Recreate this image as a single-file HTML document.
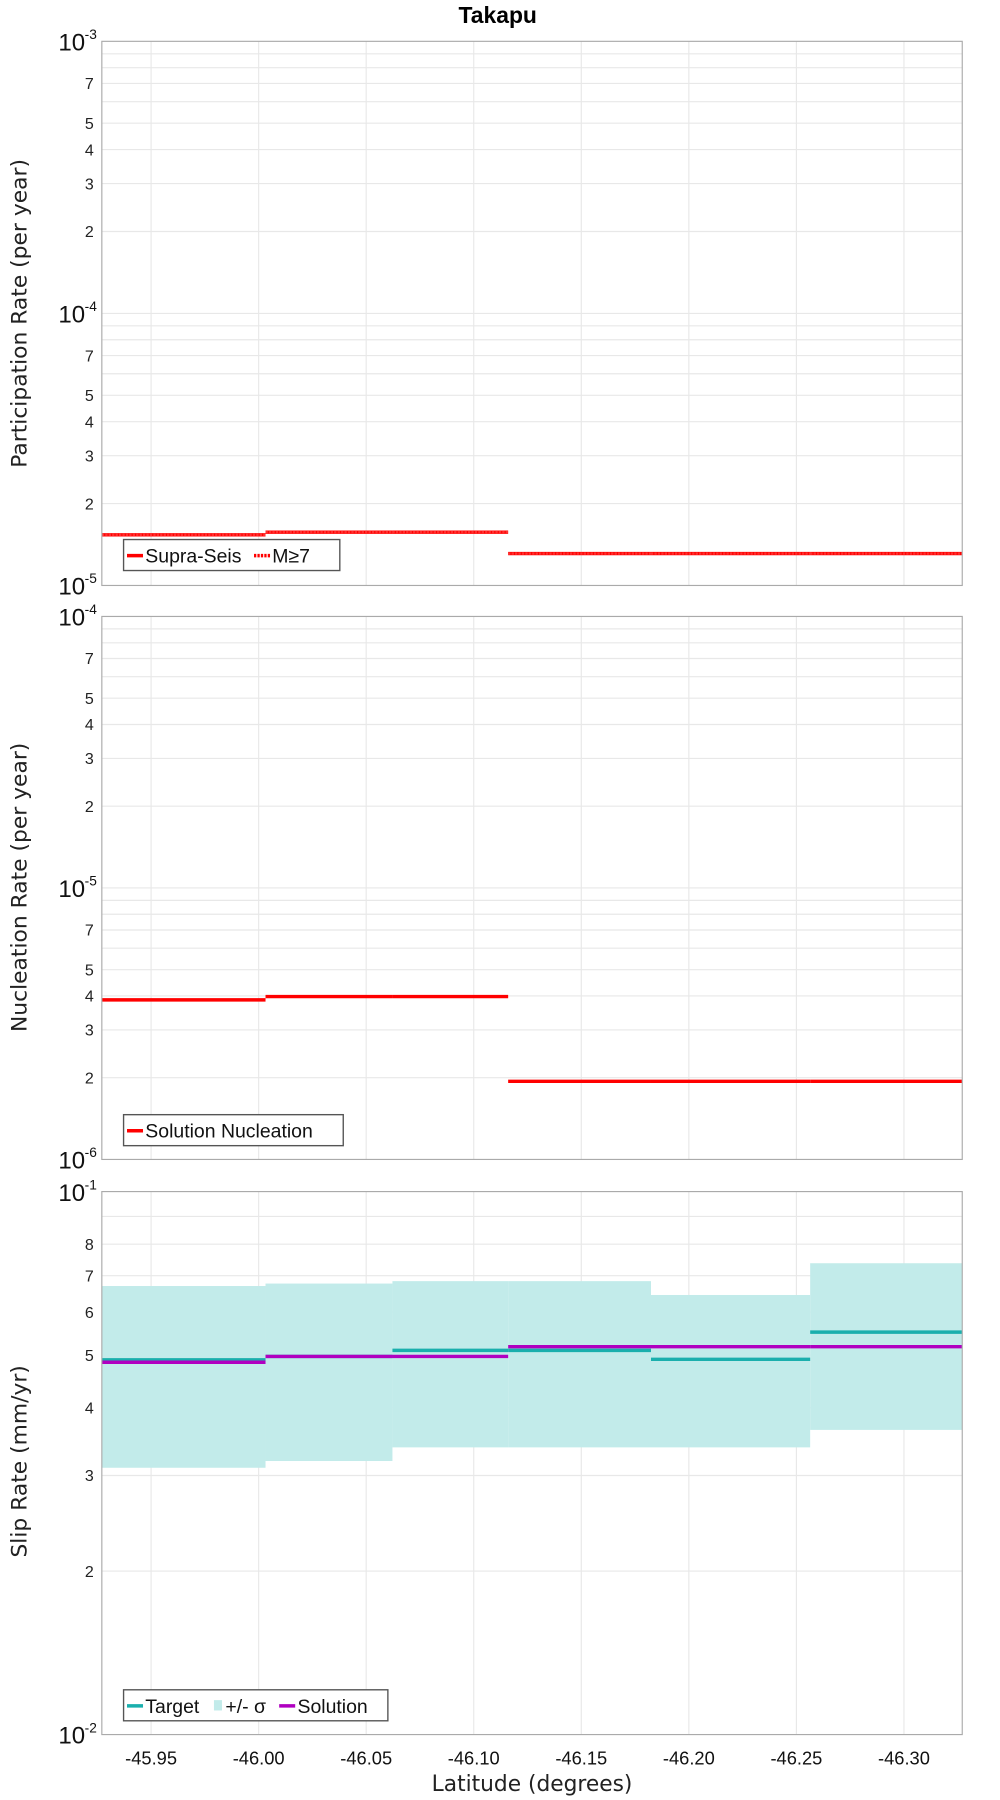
<!DOCTYPE html>
<html><head><meta charset="utf-8"><style>
html,body{margin:0;padding:0;background:#fff;}
svg{display:block;font-family:"Liberation Sans","DejaVu Sans",sans-serif;}
</style></head><body>
<svg id="chart" width="1000" height="1800" viewBox="0 0 874 1568" preserveAspectRatio="none" xmlns="http://www.w3.org/2000/svg">
<text x="435" y="20" text-anchor="middle" font-size="20" font-weight="bold">Takapu</text>
<g id="layer"></g>
</svg>
<script>
// segment boundaries (latitude)
const segEdges = [-45.9271, -46.0032, -46.0622, -46.116, -46.1824, -46.2564, -46.3271];
const xTicks = [-45.95, -46.00, -46.05, -46.10, -46.15, -46.20, -46.25, -46.30];
const xTickLabels = ["-45.95","-46.00","-46.05","-46.10","-46.15","-46.20","-46.25","-46.30"];
const partSupra = [1.535e-5, 1.57e-5, 1.57e-5, 1.31e-5, 1.31e-5, 1.31e-5];
const partM7 = [1.535e-5, 1.57e-5, 1.57e-5, 1.31e-5, 1.31e-5, 1.31e-5];
const nuclSolution = [3.87e-6, 3.98e-6, 3.98e-6, 1.94e-6, 1.94e-6, 1.94e-6];
const slipTarget = [4.90, 4.97, 5.10, 5.10, 4.91, 5.51];
const slipSolution = [4.85, 4.97, 4.97, 5.18, 5.18, 5.18];
const slipUpper = [6.70, 6.77, 6.84, 6.84, 6.45, 7.38];
const slipLower = [3.10, 3.19, 3.38, 3.38, 3.38, 3.64];

const NS = "http://www.w3.org/2000/svg";
const layer = document.getElementById("layer");
const L = 89, R = 841;
const X0 = -45.9271, X1 = -46.3271;
function xs(v){ return L + (v - X0) / (X1 - X0) * (R - L); }
function mk(tag, attrs, parent){
  const e = document.createElementNS(NS, tag);
  for (const k in attrs) e.setAttribute(k, attrs[k]);
  (parent || layer).appendChild(e);
  return e;
}
function panel(top, bottom, d0, d1, minorLabels, decExps, name){
  const g = mk("g", {});
  
  
  const ys = v => bottom - (Math.log10(v) - d0) / (d1 - d0) * (bottom - top);
  xTicks.forEach(t => {
    const ln = mk("line", {x1: xs(t), x2: xs(t), y1: top, y2: bottom, stroke: "#e8e8e8", "stroke-width": 1}, g);
    
    
  });
  for (let d = d0; d < d1; d++) {
    for (let m = 2; m <= 9; m++) {
      const v = m * Math.pow(10, d), y = ys(v);
      const ln = mk("line", {x1: L, x2: R, y1: y, y2: y, stroke: "#e8e8e8", "stroke-width": 1}, g);
      
      
      if (minorLabels.indexOf(m) >= 0) {
        const t = mk("text", {x: 82, y: y + 5, "text-anchor": "end", "font-size": 14, fill: "#222"}, g);
        t.textContent = String(m);
        
        
      }
    }
  }
  for (let d = d0; d <= d1; d++) {
    const y = ys(Math.pow(10, d));
    if (d > d0 && d < d1) {
      const ln = mk("line", {x1: L, x2: R, y1: y, y2: y, stroke: "#e8e8e8", "stroke-width": 1}, g);
      
      
    }
    const t = mk("text", {x: 51, y: y + 8, "font-size": 21, fill: "#111"}, g);
    t.textContent = "10";
    
    
    const s = mk("text", {x: 74, y: y - 2, "font-size": 12, fill: "#111"}, g);
    s.textContent = String(d + decExps);
    
    
  }
  return {g, ys};
}
function frame(g, top, bottom){
  const r = mk("rect", {x: L, y: top, width: R - L, height: bottom - top, fill: "none", stroke: "#aaa", "stroke-width": 1}, g);
  
  
}
function steps(g, vals, ys, color, w, name, dash){
  vals.forEach((v, i) => {
    const a = {x1: xs(segEdges[i]), x2: xs(segEdges[i + 1]), y1: ys(v), y2: ys(v), stroke: color, "stroke-width": w};
    if (dash) a["stroke-dasharray"] = dash;
    const ln = mk("line", a, g);
    
    
  });
}
function ylabel(text, cy, name){
  const t = mk("text", {x: 0, y: 0, transform: "translate(23," + cy + ") rotate(-90)", "text-anchor": "middle", "font-size": 19, fill: "#222", "font-family": "DejaVu Sans, sans-serif"});
  t.textContent = text;
  
  
}
function legend(x, y, w, items, name){
  const g = mk("g", {});
  
  
  const r = mk("rect", {x: x, y: y, width: w, height: 27, fill: "#fff", stroke: "#555", "stroke-width": 1.2}, g);
  
  
  let cx = x + 3;
  items.forEach(it => {
    if (it.box) {
      const b = mk("rect", {x: cx, y: y + 9, width: 7, height: 9, fill: it.color}, g);
      
      
      cx += 10;
    } else {
      const a = {x1: cx, x2: cx + 14, y1: y + 14, y2: y + 14, stroke: it.color, "stroke-width": 3};
      if (it.dash) a["stroke-dasharray"] = it.dash;
      const ln = mk("line", a, g);
      
      
      cx += 16;
    }
    const t = mk("text", {x: cx, y: y + 20, "font-size": 17, fill: "#111"}, g);
    t.textContent = it.label;
    
    
    cx += it.w;
  });
}

// Panel 1
const p1 = panel(36, 510, -5, -3, [2,3,4,5,7], 0, "participation");
steps(p1.g, partSupra, p1.ys, "#ff0000", 3, "supra-seis");
steps(p1.g, partM7, p1.ys, "#ff3030", 2, "m7", "2,1");
frame(p1.g, 36, 510);
ylabel("Participation Rate (per year)", 273, "participation-y-axis-title");
legend(108, 470, 189, [{label:"Supra-Seis", color:"#f00", w:95},{label:"M≥7", color:"#f00", dash:"2,1", w:50}], "participation-legend");

// Panel 2
const p2 = panel(537, 1010, -6, -4, [2,3,4,5,7], 0, "nucleation");
steps(p2.g, nuclSolution, p2.ys, "#ff0000", 3, "solution-nucleation");
frame(p2.g, 537, 1010);
ylabel("Nucleation Rate (per year)", 773, "nucleation-y-axis-title");
legend(108, 971, 192, [{label:"Solution Nucleation", color:"#f00", w:170}], "nucleation-legend");

// Panel 3 (values in label units: domain 1..10 shown as 10^-2..10^-1)
const p3 = panel(1038, 1511, 0, 1, [2,3,4,5,6,7,8], -2, "slip-rate");
slipUpper.forEach((u, i) => {
  const y1 = p3.ys(u), y2 = p3.ys(slipLower[i]);
  const r = mk("rect", {x: xs(segEdges[i]), y: y1, width: xs(segEdges[i+1]) - xs(segEdges[i]), height: y2 - y1, fill: "#c2ebea"}, p3.g);
  
  
});
steps(p3.g, slipTarget, p3.ys, "#1aafad", 3, "target");
steps(p3.g, slipSolution, p3.ys, "#b000c0", 3, "solution");
frame(p3.g, 1038, 1511);
ylabel("Slip Rate (mm/yr)", 1273, "slip-y-axis-title");
legend(108, 1472, 231, [{label:"Target", color:"#1aafad", w:60},{label:"+/- σ", color:"#c2ebea", box:true, w:47},{label:"Solution", color:"#b000c0", w:80}], "slip-legend");

// X axis
xTicks.forEach((t, i) => {
  const tx = mk("text", {x: xs(t), y: 1537, "text-anchor": "middle", "font-size": 16, fill: "#111"});
  tx.textContent = xTickLabels[i];
  
  
});
const xt = mk("text", {x: 465, y: 1560, "text-anchor": "middle", "font-size": 19, fill: "#222", "font-family": "DejaVu Sans, sans-serif"});
xt.textContent = "Latitude (degrees)";


</script>
</body></html>
